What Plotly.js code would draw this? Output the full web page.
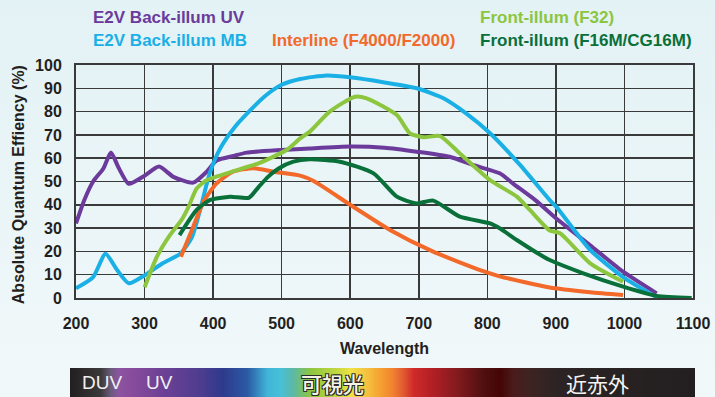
<!DOCTYPE html>
<html>
<head>
<meta charset="utf-8">
<script src="https://cdn.plot.ly/plotly-3.0.1.min.js"></script>
<style>
html,body{margin:0;padding:0;}
body{width:715px;height:397px;background:linear-gradient(180deg,#e3f2f5 0%,#eaf5f7 50%,#f1f8fa 100%);overflow:hidden;}
#chart{width:715px;height:397px;}
</style>
</head>
<body>
<div id="chart"></div>
<script>
// ---- data (wavelength nm, QE %) ----
const uvX = [200,212,225,240,251,262,277,300,321,342,371,390,405,430,449,500,541,600,650,697,745,780,818,838,870,901,950,998,1047];
const uvY = [32,42,50,55.6,62.4,56,49,52.5,56.4,52,49.5,54,59,61,62.4,63.5,64.2,65,64.5,62.8,60.6,57,53.5,49,42,34,22.6,11.3,2];

const mbX = [200,225,243,260,277,301,327,352,369,381,395,410,432,454,475,500,527,566,600,650,697,736,770,804,848,891,901,950,998,1047];
const mbY = [4.2,9,19,12,6.3,9.9,15,19,26,37.8,53.5,64,73.5,80.5,86.5,91.5,94,95.5,94.7,92.5,90,85.7,79,70.7,57,42,39,20.6,9,0.3];

const ilX = [353,371,386,405,429,459,488,527,546,600,658,721,794,818,891,950,998];
const ilY = [17.7,30.6,41.3,49.2,54.2,55.7,54.2,52.5,50.3,40,29.2,19.9,11.5,9.3,4.5,2.5,1.3];

const f32X = [300,318,337,354,364,376,391,420,468,507,527,541,570,607,624,668,687,707,731,760,804,843,862,891,906,950,998];
const f32Y = [4.6,17.7,27,33.5,39,47,50.6,53.5,58,63.5,68.5,71.4,80,86.4,85.7,78.5,70.7,69,69.5,62,50.6,43.5,37.8,29,27.8,14.9,7];

const f16X = [351,376,395,425,452,466,480,495,517,541,585,634,668,697,721,760,804,818,843,882,891,940,998,1047,1098];
const f16Y = [27,37.8,42,43.5,43,47.5,52,55.5,58.5,59.5,58.5,53.5,43.5,40.6,41.8,34.9,32,29.9,24.9,17.7,16.3,10.6,4.9,0.9,0];

const seriesNames = ['E2V Back-illum UV','E2V Back-illum MB','Interline (F4000/F2000)','Front-illum (F32)','Front-illum (F16M/CG16M)'];
const seriesColors = ['#6b3a9b','#1ab0e6','#f2692a','#8cc63f','#0a703a'];

const xTicks = [200,300,400,500,600,700,800,900,1000,1100];
const yTicks = [0,10,20,30,40,50,60,70,80,90,100];

// spectrum bar colour stops (fraction along bar)
const barPos = [0,0.048,0.064,0.077,0.096,0.144,0.208,0.243,0.283,0.315,0.336,0.355,0.384,0.427,0.448,0.475,0.496,0.517,0.533,0.549,0.576,0.619,0.661,0.688,0.709,0.736,0.779,1];
const barColors = ['#231f20','#3a3838','#6a5a7a','#8a55a0','#8a4c9c','#6e4196','#4e3c8f','#2e3a8c','#2b5aa5','#40b5d8','#48c0d8','#5ab8a8','#8cc63f','#c5d840','#efe244','#f5c040','#f5a030','#f08030','#e05a30','#d02a2a','#b52026','#821a1e','#501010','#450505','#4a1c1c','#3c2422','#2c2424','#231f20'];

const xs = [uvX, mbX, ilX, f32X, f16X];
const ys = [uvY, mbY, ilY, f32Y, f16Y];

const traces = xs.map((x,i)=>({
  type:'scatter', mode:'lines', x:x, y:ys[i], name:seriesNames[i],
  line:{color:seriesColors[i], width:4, shape:'spline', smoothing:0.6},
  xaxis:'x', yaxis:'y', hoverinfo:'skip'
}));

traces.push({
  type:'heatmap', x:barPos, y:[0,1], z:[barPos, barPos], zmin:0, zmax:1,
  zsmooth:'best', showscale:false, hoverinfo:'skip',
  colorscale: barPos.map((p,i)=>[p, barColors[i]]),
  xaxis:'x2', yaxis:'y2'
});

const F = '"Liberation Sans", Arial, sans-serif';
const outline = '1px 1px 0 #2a2a2a, -1px -1px 0 #2a2a2a, 1px -1px 0 #2a2a2a, -1px 1px 0 #2a2a2a';
const legendPos = [[0.0336,1.1416],[0.0336,1.0723],[0.32,1.0723],[0.6528,1.1416],[0.6528,1.0723]];
const annotations = seriesNames.map((n,i)=>({
  xref:'paper', yref:'paper', x:legendPos[i][0], y:legendPos[i][1], xanchor:'left', yanchor:'middle',
  text:'<b>'+n+'</b>', showarrow:false, font:{family:F, size:17, color:seriesColors[i]}
}));
annotations.push(
  {xref:'paper',yref:'paper',x:-0.0832,y:0.638,xanchor:'center',yanchor:'middle',textangle:-90,
   text:'<b>Absolute Quantum Effiency (%)</b>',showarrow:false,font:{family:F,size:16,color:'#231f20'}},
  {xref:'paper',yref:'paper',x:0.0512,y:0.0422,xanchor:'center',yanchor:'middle',text:'DUV',showarrow:false,font:{family:F,size:19,color:'#f0f0f0'}},
  {xref:'paper',yref:'paper',x:0.1424,y:0.0422,xanchor:'center',yanchor:'middle',text:'UV',showarrow:false,font:{family:F,size:19,color:'#f0f0f0'}},
  {xref:'paper',yref:'paper',x:0.4192,y:0.0422,xanchor:'center',yanchor:'middle',text:'可視光',showarrow:false,font:{family:'"Noto Sans CJK JP"',size:21,color:'#f6f2e4',weight:500,shadow:outline}},
  {xref:'paper',yref:'paper',x:0.8432,y:0.0422,xanchor:'center',yanchor:'middle',text:'近赤外',showarrow:false,font:{family:'"Noto Sans CJK JP"',size:21,color:'#f4f4f4'}}
);

const layout = {
  width:715, height:397,
  margin:{l:70, r:20, t:65, b:0, pad:0},
  paper_bgcolor:'rgba(0,0,0,0)', plot_bgcolor:'rgba(0,0,0,0)',
  showlegend:false,
  font:{family:F, color:'#231f20'},
  xaxis:{
    domain:[0.0096,0.9968], anchor:'y', range:[200,1100], tickvals:xTicks, ticktext:xTicks.map(String),
    showgrid:true, gridcolor:'#3a3a3a', gridwidth:1.5, zeroline:false,
    showline:true, mirror:true, linecolor:'#3a3a3a', linewidth:2, ticks:'',
    ticklabelstandoff:10,
    tickfont:{family:F, size:16, color:'#231f20', weight:'bold'},
    title:{text:'<b>Wavelength</b>', font:{family:F, size:16, color:'#231f20'}, standoff:12}
  },
  yaxis:{
    domain:[0.2982,1], anchor:'x', range:[0,100], tickvals:yTicks, ticktext:yTicks.map(String),
    showgrid:true, gridcolor:'#3a3a3a', gridwidth:1.5, zeroline:false,
    showline:true, mirror:true, linecolor:'#3a3a3a', linewidth:2, ticks:'',
    ticklabelstandoff:9,
    tickfont:{family:F, size:16, color:'#231f20', weight:'bold'}
  },
  xaxis2:{domain:[0,1], anchor:'y2', range:[0,1], visible:false, fixedrange:true},
  yaxis2:{domain:[0,0.0873], anchor:'x2', range:[0,1], visible:false, fixedrange:true},
  annotations:annotations
};

Plotly.newPlot('chart', traces, layout, {staticPlot:true, displayModeBar:false});
</script>
</body>
</html>
